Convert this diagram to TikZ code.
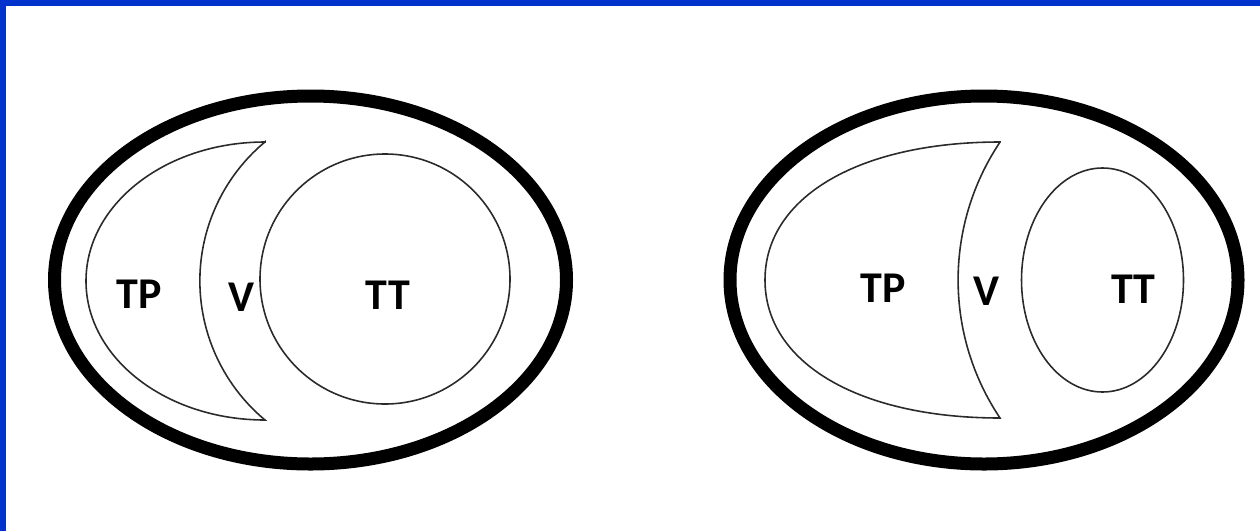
\documentclass[tikz,border=0pt]{standalone}
\usepackage{fontspec}
\newfontfamily\labfont{Carlito}
\definecolor{frameblue}{HTML}{0033CC}
\definecolor{thinline}{HTML}{2A2A2A}
\begin{document}
\begin{tikzpicture}[x=0.02cm,y=-0.02cm,
  outerring/.style={line width=7.4pt,black},
  thinshape/.style={line width=0.9pt,thinline},
  lab/.style={font=\labfont\bfseries\fontsize{25}{30}\selectfont,inner sep=0pt,anchor=center}]
\useasboundingbox (0,0) rectangle (1260,531);
\fill[white] (0,0) rectangle (1260,531);
\fill[frameblue] (0,0) rectangle (1260,6);
\fill[frameblue] (0,0) rectangle (6,531);
% left diagram
\draw[outerring] (310.5,280) ellipse [x radius=256, y radius=184];
\draw[thinshape] (265,142) .. controls (166,142) and (86,204) .. (86,281)
   .. controls (86,358) and (166,420) .. (265,420)
   arc[start angle=129.8, end angle=230.2, radius=181] -- cycle;
\draw[thinshape] (385,279) circle[radius=125];
\node[lab] (tpL) at (139.5,294) {TP};
\node[lab] (vL) at (241.5,297) {V};
\node[lab] (ttL) at (388,295) {TT};
% right diagram
\draw[outerring] (984,280) ellipse [x radius=254, y radius=184];
\draw[thinshape] (1000,142) .. controls (859,142) and (765,197) .. (765,280)
   .. controls (765,363) and (859,418) .. (1000,418)
   arc[start angle=146.2, end angle=213.8, radius=248] -- cycle;
\draw[thinshape] (1102.5,280) ellipse[x radius=81, y radius=112];
\node[lab] (tpR) at (883.5,288) {TP};
\node[lab] (vR) at (986,291.5) {V};
\node[lab] (ttR) at (1133,289) {TT};
\end{tikzpicture}
\end{document}
